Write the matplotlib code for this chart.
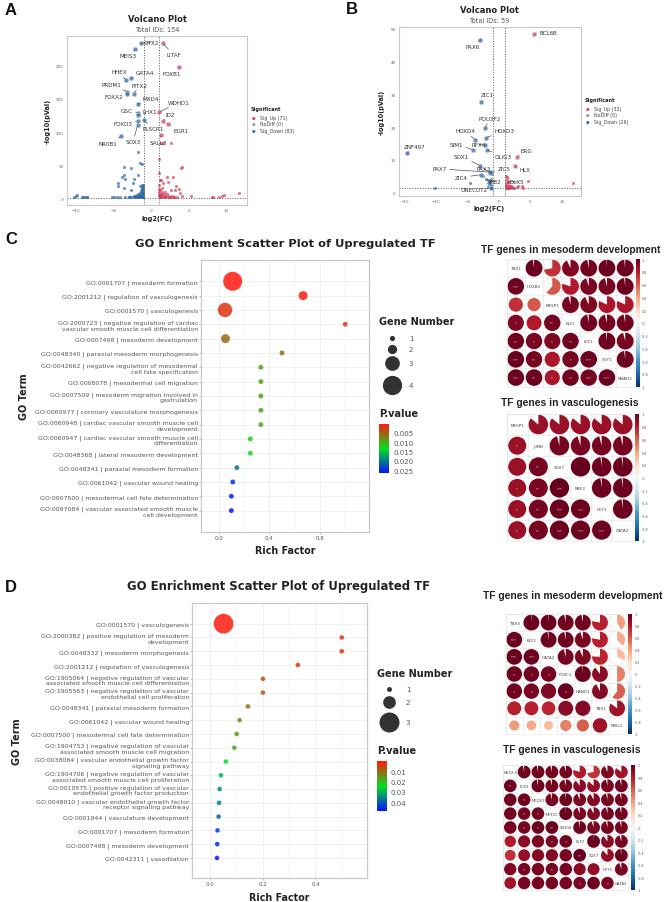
import numpy as np
import matplotlib
matplotlib.use("Agg")
import matplotlib.pyplot as plt
from matplotlib.colors import LinearSegmentedColormap, Normalize
from matplotlib.cm import ScalarMappable
from matplotlib.patches import Wedge, Circle

W, H = 666, 903

# ---- panel A volcano
A_UP_X = [1.05, 2.7, 1.3, 1.6, 4.1, 3.96, 1.1, 1.3, 2.1, 2.9, 1.2, 2.3, 1.64, 1.03, 1.4, 3.3, 3.7, 2.65, 3.2,
          3.85, 4.1, 5.3, 8.1, 8.3, 9.1, 9.4, 9.7, 11.7, 4.1, 4.7, 1.05, 1.1, 1.2, 1.3, 1.5, 1.7, 1.9, 2.1, 2.3,
          2.5, 2.8, 3.0, 3.4, 1.05, 1.2, 1.35, 1.6, 1.8, 2.0, 2.4, 2.7, 3.1, 1.1, 1.25, 1.5, 1.15, 1.4, 1.9]
A_UP_Y = [60, 83, 84, 84, 48, 46, 39, 27, 33, 33, 27, 24, 23, 20, 16, 19, 14, 13, 12,
          8, 4, 4, 2, 2, 2, 3, 4.5, 8, 246, 246, 14, 10, 7, 5, 4, 6, 3, 7, 3,
          2.5, 3, 2, 2, 3, 2, 2, 2, 2.5, 2, 2, 2, 2, 5, 3, 7, 12, 9, 10]
A_DOWN_X = [-1.78, -1.5, -1.15, -3.55, -2.7, -3.6, -3.9, -3.5, -2.3, -1.8, -4.35, -4.35, -2.45, -3.6, -2.7,
            -10.3, -10, -9.8, -9.2, -9, -8.8, -8.6, -8.5, -5.2, -4.9, -4.5, -4.2, -3.5, -3.0, -2.9,
            -3, -2.6, -2.4, -1.05, -1.2, -1.05, -1.25, -1.5, -1.05, -1.2, -1.4, -1.05, -1.2, -1.35, -1.5,
            -1.05, -1.7, -1.05, -1.25, -1.45, -1.9, -2.1, -1.05, -1.3, -1.6, -2.3, -1.1, -1.4, -1.8, -2.1,
            -2.5, -2.8, -1.2, -1.6, -1.9, -2.2, -1.05, -1.3]
A_DOWN_Y = [70, 54, 52, 48, 46, 35, 33, 29, 29, 36, 23, 19, 23, 16, 12,
            1.5, 4, 5.5, 2, 1.5, 2.5, 2.5, 1.5, 1.5, 1.5, 1.8, 1.5, 1.5, 1.5, 1.5,
            246, 246, 246, 20, 20, 17, 17, 18, 14, 14, 12, 11, 10, 9, 8,
            8, 6, 6, 6, 5, 5, 4, 4, 3, 3, 3, 2, 2, 2, 2,
            2, 2, 1.5, 1.5, 1.5, 1.5, 1.5, 4]
A_NAMES = ["OTX2", "MEIS3", "LITAF", "FOXB1", "HHEX", "GATA4", "PRDM1", "FOXA2", "PITX2", "MXD4", "WDHD1",
           "GSC", "LHX1", "ID2", "FOXD3", "PLSCR1", "EGR1", "SOX3", "NR0B1", "SALL3"]
A_NAME_X = [-1.38, -2.13, 1.56, 3.73, -3.38, -2.7, -3.2, -3.2, -2.27, -1.78, 1.07,
            -1.78, -1.78, 1.64, -1.78, -1.0, 2.3, -1.78, -3.96, 1.38]
A_NAME_Y = [234, 225, 234, 198.6, 178.5, 181, 161, 158, 158, 142, 130,
            129, 126, 117, 116, 118, 112, 110, 93.5, 95.5]
A_TEXT_X = [0, -3.0, 3.0, 2.8, -4.2, -0.8, -5.3, -4.9, -1.5, 0, 3.7, -3.2, -0.2, 2.6, -3.7, 0.3, 4.0, -2.4, -5.8, 1.0]
A_TEXT_Y = [235, 215, 217, 189, 191, 190, 172, 153, 171, 150, 145, 133, 131, 127, 113, 105, 103, 86, 83, 85]

# ---- panel B volcano
B_UP_X = [1.1, 1.2, 1.25, 1.1, 1.2, 1.5, 1.05, 1.3, 1.6, 1.9, 1.1, 1.4, 1.8, 2.4, 2.8, 3.1, 3.6, 3.8, 4.7, 11.8,
          1.2, 1.4, 1.7, 2.1, 1.15, 1.5, 1.9, 1.3, 1.05, 1.6, 2.2]
B_UP_Y = [5.1, 4.6, 4.0, 3.2, 2.8, 3.4, 2.2, 2.0, 2.3, 2.0, 1.5, 1.6, 1.5, 1.4, 1.7, 1.9, 1.9, 1.5, 3.4, 2.8,
          1.4, 2.6, 1.8, 1.6, 2.4, 1.4, 1.7, 3.6, 1.8, 1.5, 1.5]
B_DOWN_X = [-10.2, -4.7, -2.5, -2.0, -1.8, -1.5, -1.3, -1.6, -1.7, -1.2, -1.1, -1.3, -1.15, -1.25, -1.1, -1.4]
B_DOWN_Y = [1.3, 3.0, 5, 4.2, 3.9, 3.5, 4.0, 2.5, 1.8, 2.3, 1.4, 5.5, 5.8, 6.1, 6.3, 6.4]
B_NAMES = ["BCL6B", "PAX6", "ZIC1", "POU3F2", "HOXD4", "HOXD3", "RFX4", "SIM1", "OLIG3", "ZNF497", "ERG",
           "SOX1", "HLX", "PAX3", "ZIC5", "PAX7", "ZIC4", "ZEB2", "ONECUT2", "DLX5"]
B_NAME_X = [5.6, -3.0, -2.9, -2.2, -3.8, -2.1, -2.3, -4.1, -1.9, -14.7, 2.9, -3, 2.55, -1.4, -1.2, -1.4, -2.9, -1.4, -1.2, 1.5]
B_NAME_Y = [48.5, 46.7, 27.8, 19.7, 16, 16.7, 14.6, 13, 13, 12, 10.9, 8.2, 8, 6, 6, 6.2, 5.4, 3.6, 1.3, 3.3]
B_TEXT_X = [7.8, -4.2, -1.8, -1.5, -5.3, 0.85, -3.2, -6.8, 0.7, -13.5, 4.4, -6, 4.1, -2.5, 0.75, -9.5, -6, -0.75, -3.9, 2.9]
B_TEXT_Y = [48.8, 44.6, 29.8, 22.6, 18.8, 18.8, 14.7, 14.7, 11, 14, 12.9, 11, 7, 7.4, 7.2, 7.2, 4.6, 3.2, 0.8, 3.2]

# ---- panel C dot plot
C_TERMS = ["GO:0001707 | mesoderm formation", "GO:2001212 | regulation of vasculogenesis",
           "GO:0001570 | vasculogenesis",
           "GO:2000723 | negative regulation of cardiac\nvascular smooth muscle cell differentiation",
           "GO:0007498 | mesoderm development", "GO:0048340 | paraxial mesoderm morphogenesis",
           "GO:0042662 | negative regulation of mesodermal\ncell fate specification",
           "GO:0008078 | mesodermal cell migration",
           "GO:0007509 | mesoderm migration involved in\ngastrulation",
           "GO:0060977 | coronary vasculature morphogenesis",
           "GO:0060948 | cardiac vascular smooth muscle cell\ndevelopment",
           "GO:0060947 | cardiac vascular smooth muscle cell\ndifferentiation",
           "GO:0048368 | lateral mesoderm development", "GO:0048341 | paraxial mesoderm formation",
           "GO:0061042 | vascular wound healing", "GO:0007500 | mesodermal cell fate determination",
           "GO:0097084 | vascular associated smooth muscle\ncell development"]
C_RICH = [0.11, 0.667, 0.05, 1.0, 0.053, 0.5, 0.333, 0.333, 0.333, 0.333, 0.333, 0.25, 0.25, 0.143, 0.111, 0.1, 0.1]
C_GENES = [4, 2, 3, 1, 2, 1, 1, 1, 1, 1, 1, 1, 1, 1, 1, 1, 1]
C_PVAL = [0.0003, 0.0005, 0.002, 0.0025, 0.0055, 0.006, 0.0092, 0.0092, 0.0092, 0.0092, 0.0092, 0.0125, 0.0125,
          0.02, 0.025, 0.026, 0.0262]

# ---- panel D dot plot
D_TERMS = ["GO:0001570 | vasculogenesis", "GO:2000382 | positive regulation of mesoderm\ndevelopment",
           "GO:0048332 | mesoderm morphogenesis", "GO:2001212 | regulation of vasculogenesis",
           "GO:1905064 | negative regulation of vascular\nassociated smooth muscle cell differentiation",
           "GO:1905563 | negative regulation of vascular\nendothelial cell proliferation",
           "GO:0048341 | paraxial mesoderm formation", "GO:0061042 | vascular wound healing",
           "GO:0007500 | mesodermal cell fate determination",
           "GO:1904753 | negative regulation of vascular\nassociated smooth muscle cell migration",
           "GO:0038084 | vascular endothelial growth factor\nsignaling pathway",
           "GO:1904706 | negative regulation of vascular\nassociated smooth muscle cell proliferation",
           "GO:0010575 | positive regulation of vascular\nendothelial growth factor production",
           "GO:0048010 | vascular endothelial growth factor\nreceptor signaling pathway",
           "GO:0001944 | vasculature development", "GO:0001707 | mesoderm formation",
           "GO:0007498 | mesoderm development", "GO:0042311 | vasodilation"]
D_RICH = [0.05, 0.5, 0.5, 0.333, 0.2, 0.2, 0.143, 0.111, 0.1, 0.091, 0.0588, 0.04, 0.035, 0.033, 0.031, 0.027, 0.026, 0.025]
D_GENES = [3] + [1] * 17
D_PVAL = [0.0005, 0.003, 0.003, 0.0035, 0.007, 0.007, 0.011, 0.014, 0.016, 0.018, 0.025, 0.029, 0.034, 0.035,
          0.04, 0.044, 0.045, 0.048]

# ---- correlograms, upper triangle by row
M1_GENES = ["TBX1", "HOXB1", "MESP1", "KLF1", "LEF1", "HEY1", "SMAD3"]
M1_R = [0.98, 0.72, 0.93, 0.97, 0.99, 0.98,
        0.62, 0.8, 0.95, 0.96, 0.98,
        0.96, 0.93, 0.82, 0.82,
        0.97, 0.96, 0.97,
        0.98, 0.96,
        0.98]
M1_STARS = ["***", "", "", "*", "", "**", "**", "*", "*", "**", "***", "**", "", "*", "***",
            "***", "**", "*", "**", "***", "***"]
M2_GENES = ["MESP1", "JUNB", "SOX7", "MEF2", "HEY1", "GATA2"]
M2_R = [0.86, 0.86, 0.86, 0.86, 0.86,
        0.96, 0.95, 0.96, 0.96,
        1.0, 0.98, 0.98,
        0.98, 0.98,
        0.98]
M2_STARS = ["*", "", "**", "*", "**", "***", "*", "**", "***", "***", "*", "**", "***", "***", "***"]
M3_GENES = ["TBX3", "KLF2", "GATA2", "FOXC1", "HAND1", "TBX1", "MIXL1"]
M3_R = [0.99, 0.99, 0.97, 0.97, 0.78, 0.42,
        0.98, 0.97, 0.95, 0.78, 0.38,
        0.96, 0.93, 0.76, 0.32,
        0.99, 0.9, 0.5,
        0.92, 0.6,
        0.85]
M3_STARS = ["***", "***", "***", "*", "*", "*", "*", "*", "", "*", "", "", "", "", "", "", "", "", "", "", ""]
M4_GENES = ["NKX2-5", "ELK3", "MEOX1", "MEF2C", "SOX18", "KLF2", "SOX7", "HEY1", "GATA2"]
M4_R = [0.97, 0.97, 0.96, 0.96, 0.8, 0.72, 0.93, 0.85,
        0.97, 0.96, 0.96, 0.9, 0.87, 0.96, 0.96,
        0.96, 0.98, 0.94, 0.92, 0.96, 0.96,
        0.99, 0.94, 0.92, 0.96, 0.96,
        0.97, 0.95, 0.96, 0.96,
        0.99, 0.9, 0.95,
        0.88, 0.98,
        0.95]
M4_STARS = ["*", "", "*", "", "*", "*", "", "*", "*", "**", "", "", "", "*", "*", "", "", "", "", "", "**",
            "", "*", "", "*", "", "", "", "", "", "", "", "", "*", "", "*"]

UP = "#d6405a"
DOWN = "#2f68a8"
GREY = "#9a9a9a"
SPINE = "#c9c9c9"
P_CMAP = LinearSegmentedColormap.from_list("pval", ["#ff1a10", "#00e020", "#0a10ff"])


def px_axes(fig, left, top, right, bottom, **kw):
    return fig.add_axes([left / W, 1 - bottom / H, (right - left) / W, (bottom - top) / H], **kw)


def px_text(fig, x, y, s, **kw):
    kw.setdefault("ha", "center")
    kw.setdefault("va", "center")
    return fig.text(x / W, 1 - y / H, s, **kw)


def volcano(fig, box, xlim, ylim, xticks, yticks, up, down, names, text_pos, total):
    ax = px_axes(fig, *box)
    ax.scatter(*up, s=5, color=UP, alpha=0.7, linewidths=0)
    ax.scatter(*down, s=5, color=DOWN, alpha=0.7, linewidths=0)
    ax.axvline(-1, color="#555555", lw=0.7, ls=":")
    ax.axvline(1, color="#555555", lw=0.7, ls=":")
    ax.axhline(1.3, color="#555555", lw=0.7, ls=":")
    for name, x, y, tx, ty in zip(*names, *text_pos):
        ax.scatter([x], [y], s=11, color=UP if x > 0 else DOWN, alpha=0.75, edgecolors="#d8dce6", linewidths=0.5, zorder=3)
        ax.annotate(name, xy=(x, y), xytext=(tx, ty), fontsize=4.1, color="#333333", ha="center", va="center",
                    arrowprops=dict(arrowstyle="-", color="#555555", lw=0.5, shrinkA=0, shrinkB=1), zorder=4)
    ax.set_xlim(*xlim)
    ax.set_ylim(*ylim)
    ax.set_xticks(xticks)
    ax.set_yticks(yticks)
    ax.tick_params(labelsize=3, length=0, pad=2.5, labelcolor="#666666")
    for s in ax.spines.values():
        s.set_color(SPINE)
        s.set_linewidth(0.8)


def volcano_text(fig, cx, title_y, sub_y, xlab_y, ylab_x, ylab_y, total, leg_x, leg_ys, counts):
    px_text(fig, cx, title_y, "Volcano Plot", fontsize=6, fontweight="bold", color="#222222")
    px_text(fig, cx, sub_y, "Total IDs: %d" % total, fontsize=4.7, color="#555555")
    px_text(fig, cx, xlab_y, "log2(FC)", fontsize=4.7, fontweight="bold", color="#222222")
    px_text(fig, ylab_x, ylab_y, "-log10(pVal)", fontsize=4.7, fontweight="bold", color="#222222", rotation=90)
    px_text(fig, leg_x - 3, leg_ys[0], "Significant", fontsize=3.6, fontweight="bold", color="#222222", ha="left")
    labels = ["Sig_Up (%d)" % counts[0], "NoDiff (0)", "Sig_Down (%d)" % counts[1]]
    for y, lab, c in zip(leg_ys[1:], labels, [UP, GREY, DOWN]):
        px_text(fig, leg_x + 6, y, lab, fontsize=3.4, color="#444444", ha="left")
        px_text(fig, leg_x, y, "\u25cf", fontsize=3, color=c)


def dotplot(fig, box, terms, rich, genes, pval, xlim, xticks, xminor, diam, pmax, first_y, step):
    ax = px_axes(fig, *box)
    ys = np.arange(len(terms))
    ax.set_ylim((box[3] - first_y) / step, (box[1] - first_y) / step)
    ax.set_xlim(*xlim)
    ax.set_axisbelow(True)
    ax.grid(True, which="major", color="#ebebeb", lw=0.5)
    ax.set_xticks(xminor, minor=True)
    ax.grid(True, which="minor", axis="x", color="#f2f2f2", lw=0.35)
    ax.tick_params(which="minor", length=0)
    sizes = [(diam[g - 1] * 0.72) ** 2 for g in genes]
    ax.scatter(rich, ys, s=sizes, c=pval, cmap=P_CMAP, norm=Normalize(*pmax), alpha=0.85,
               edgecolors="white", linewidths=0.25, zorder=3)
    ax.set_yticks(ys)
    ax.set_yticklabels(terms, fontsize=4.5, color="#555555", linespacing=1.12)
    ax.set_xticks(xticks)
    ax.set_xticklabels(["%.1f" % t for t in xticks], fontsize=3.9, color="#555555")
    ax.tick_params(axis="both", which="major", length=1.2, width=0.4, color="#888888", pad=1)
    for s in ax.spines.values():
        s.set_color(SPINE)
        s.set_linewidth(0.9)
    return ax


def dot_legend(fig, overlay, left, title_y, key_x, key_ys, lab_x, diam, pv_y, bar, pmax, pticks, fmt):
    px_text(fig, left, title_y, "Gene Number", fontsize=7, fontweight="bold", color="#222222", ha="left")
    for n, (y, d) in enumerate(zip(key_ys, diam)):
        overlay.scatter([key_x], [y], s=(d * 0.72) ** 2, color="#333333", linewidths=0)
        px_text(fig, lab_x, y, str(n + 1), fontsize=5, color="#555555")
    px_text(fig, left, pv_y, "P.value", fontsize=7, fontweight="bold", color="#222222", ha="left")
    cax = px_axes(fig, *bar)
    cb = fig.colorbar(ScalarMappable(Normalize(*pmax), P_CMAP), cax=cax)
    cax.invert_yaxis()
    cb.set_ticks(pticks)
    cb.set_ticklabels([fmt % t for t in pticks])
    cb.outline.set_visible(False)
    cax.tick_params(labelsize=5, length=0, pad=3, labelcolor="#555555")


def correlogram(fig, box, bar, genes, r_upper, stars, label_size):
    n = len(genes)
    ax = px_axes(fig, *box)
    cmap = plt.get_cmap("RdBu_r")
    norm = Normalize(-1, 1)
    radius = 0.46
    ax.set_xlim(0, n)
    ax.set_ylim(0, n)
    ax.set_xticks(range(n + 1))
    ax.set_yticks(range(n + 1))
    ax.tick_params(length=0, labelbottom=False, labelleft=False)
    ax.grid(True, color="#e4e4e4", lw=0.4)
    ax.set_axisbelow(True)
    for s in ax.spines.values():
        s.set_color("#e4e4e4")
        s.set_linewidth(0.4)
    upper_pairs = [(i, j) for i in range(n) for j in range(i + 1, n)]
    for (i, j), r in zip(upper_pairs, r_upper):
        c = cmap(norm(r))
        # upper triangle: pie filled clockwise from twelve o'clock
        ux, uy = j + 0.5, n - i - 0.5
        ax.add_patch(Circle((ux, uy), radius, fc="white", ec="#f2d5d8", lw=0.3))
        ax.add_patch(Wedge((ux, uy), radius, 90 - 360 * r, 90, fc=c, ec="none"))
        # lower triangle: circle area follows r
        lx, ly = i + 0.5, n - j - 0.5
        ax.add_patch(Circle((lx, ly), radius * np.sqrt(abs(r)), fc=c, ec="none"))
    for (i, j), st in zip(sorted(upper_pairs, key=lambda p: (p[1], p[0])), stars):
        if st:
            ax.text(i + 0.5, n - j - 0.5, st, color="#f0e0e0", fontsize=2.8, ha="center", va="center")
    for i, g in enumerate(genes):
        ax.text(i + 0.5, n - i - 0.5, g, fontsize=label_size, color="#444444", ha="center", va="center")
    cax = px_axes(fig, *bar)
    cb = fig.colorbar(ScalarMappable(norm, cmap), cax=cax)
    ticks = np.round(np.arange(-1, 1.01, 0.2), 1)
    cb.set_ticks(ticks)
    cb.set_ticklabels(["%g" % t for t in ticks])
    cb.outline.set_visible(False)
    cax.tick_params(labelsize=2.4, length=0, pad=1.5, labelcolor="#555555")


fig = plt.figure(figsize=(W / 100, H / 100), dpi=100, facecolor="white")

volcano(fig, (67, 37, 247, 206), (-11.2, 12.8), (-10, 245), [-10, -5, 0, 5, 10], [0, 50, 100, 150, 200],
        (A_UP_X, A_UP_Y), (A_DOWN_X, A_DOWN_Y), (A_NAMES, A_NAME_X, A_NAME_Y), (A_TEXT_X, A_TEXT_Y), 154)
volcano_text(fig, 157, 19, 29.5, 218.5, 48, 121, 154, 254, [109, 118.5, 124.5, 131.5], (71, 83))

volcano(fig, (399, 28, 581, 197), (-15.95, 13.08), (-1.1, 50.6), [-15, -10, -5, 0, 5, 10], [0, 10, 20, 30, 40, 50],
        (B_UP_X, B_UP_Y), (B_DOWN_X, B_DOWN_Y), (B_NAMES, B_NAME_X, B_NAME_Y), (B_TEXT_X, B_TEXT_Y), 59)
volcano_text(fig, 489, 10.5, 21, 209.5, 382, 112, 59, 588, [100.5, 109.5, 115.5, 122.5], (33, 26))

C_DIAM = [5.2, 9.3, 14.7, 19.3]
D_DIAM = [4.9, 12.7, 20]
dotplot(fig, (201, 261, 369.3, 533), C_TERMS, C_RICH, C_GENES, C_PVAL, (-0.14, 1.19), [0.0, 0.4, 0.8],
        [0.2, 0.6, 1.0], C_DIAM, (0.0002, 0.0266), 282.3, 14.33)
dotplot(fig, (192.3, 604, 366.7, 879), D_TERMS, D_RICH, D_GENES, D_PVAL, (-0.069, 0.595), [0.0, 0.2, 0.4],
        [0.1, 0.3, 0.5], D_DIAM, (0.0003, 0.0487), 624.7, 13.78)

overlay = fig.add_axes([0, 0, 1, 1], facecolor="none")
overlay.set_xlim(0, W)
overlay.set_ylim(H, 0)
overlay.axis("off")

for letter, x, y in [("A", 11, 10.5), ("B", 352, 10), ("C", 11, 239), ("D", 11, 588)]:
    px_text(fig, x, y, letter, fontsize=12, fontweight="bold", family="Liberation Sans", color="#111111")

px_text(fig, 285, 243.7, "GO Enrichment Scatter Plot of Upregulated TF", fontsize=8.25, fontweight="bold", color="#222222")
px_text(fig, 279, 586.7, "GO Enrichment Scatter Plot of Upregulated TF", fontsize=8.35, fontweight="bold", color="#222222")
px_text(fig, 24, 397, "GO Term", fontsize=7, fontweight="bold", rotation=90, color="#222222")
px_text(fig, 17, 741.7, "GO Term", fontsize=7, fontweight="bold", rotation=90, color="#222222")
px_text(fig, 285, 551.5, "Rich Factor", fontsize=6.9, fontweight="bold", color="#222222")
px_text(fig, 279.3, 898, "Rich Factor", fontsize=6.9, fontweight="bold", color="#222222")

dot_legend(fig, overlay, 379.3, 322, 391.7, [338.7, 349.7, 364.3, 385.7], 411, C_DIAM, 413.7,
           (379.3, 425, 389, 474.3), (0.0002, 0.0266), [0.005, 0.01, 0.015, 0.02, 0.025], "%.3f")
dot_legend(fig, overlay, 376.7, 674.3, 389, [690, 702.7, 722.7], 408, D_DIAM, 751,
           (376.7, 762.3, 386.7, 812.3), (0.0003, 0.0487), [0.01, 0.02, 0.03, 0.04], "%.2f")

correlogram(fig, (506.7, 260, 634.3, 387.7), (635.7, 260, 640, 387.7), M1_GENES, M1_R, M1_STARS, 3)
correlogram(fig, (506.7, 415, 633.3, 541.7), (635.3, 415, 639.3, 541.7), M2_GENES, M2_R, M2_STARS, 3)
correlogram(fig, (505.7, 615, 625.7, 735), (628.3, 615, 632.3, 735), M3_GENES, M3_R, M3_STARS, 3)
correlogram(fig, (503.3, 766, 628.3, 891), (630.7, 766, 635.3, 891), M4_GENES, M4_R, M4_STARS, 2.7)

for s, x, y in [("TF genes in mesoderm development", 570.7, 249.7), ("TF genes in vasculogenesis", 570, 403.3),
                ("TF genes in mesoderm development", 572.3, 596), ("TF genes in vasculogenesis", 571.7, 750)]:
    px_text(fig, x, y, s, fontsize=7.4, fontweight="bold", family="Liberation Sans", color="#222222")

fig.savefig("out.png", dpi=100, facecolor="white")
